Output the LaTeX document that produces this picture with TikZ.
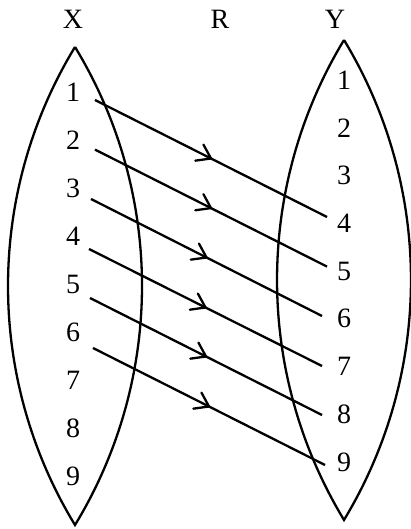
\documentclass[tikz,border=0pt]{standalone}
\usepackage{fontspec}
\setmainfont{Liberation Serif}
\usetikzlibrary{calc,decorations.markings}
\tikzset{
  lbl/.style={inner sep=0pt,font=\fontsize{28}{32}\selectfont},
  lens/.style={line width=2.3pt},
  maparrow/.style={line width=2.3pt,
    postaction={decorate},
    decoration={markings,mark=at position 0.5 with {\draw[line width=2.3pt,line cap=round,line join=miter] (-13,9) -- (0,0) -- (-13,-9);}}}
}
\begin{document}
\begin{tikzpicture}[x=1pt,y=1pt]
\useasboundingbox (0,0) rectangle (410,529);
% headings
\node[lbl] (X) at (73,510) {X};
\node[lbl] (R) at (220,510) {R};
\node[lbl] (Y) at (335,510) {Y};
% left lens
\draw[lens] (75,482) arc[start angle=31.32,end angle=-31.32,radius=459.8]
            arc[start angle=211.32,end angle=148.68,radius=459.8];
% right lens
\draw[lens] (344,489) arc[start angle=31.19,end angle=-31.19,radius=463.4]
            arc[start angle=211.19,end angle=148.81,radius=463.4];
% left elements
\foreach \i/\y in {1/437,2/389,3/341,4/293,5/245,6/197,7/149,8/101,9/53}
  \node[lbl] (l\i) at (73,\y) {\i};
% right elements
\foreach \i/\y in {1/449,2/401,3/354,4/306,5/258,6/211,7/163,8/115,9/67}
  \node[lbl] (r\i) at (344,\y) {\i};
% relation arrows
\draw[maparrow] ($(l1)+(22,-8)$) -- ($(r4)+(-17,6)$);
\draw[maparrow] ($(l2)+(22,-9.6)$) -- ($(r5)+(-17,4.4)$);
\draw[maparrow] ($(l3)+(18,-11)$) -- ($(r6)+(-22,2)$);
\draw[maparrow] ($(l4)+(16,-13)$) -- ($(r7)+(-22,0)$);
\draw[maparrow] ($(l5)+(17,-14)$) -- ($(r8)+(-22,-1)$);
\draw[maparrow] ($(l6)+(20,-16)$) -- ($(r9)+(-19,-3)$);
\end{tikzpicture}
\end{document}
